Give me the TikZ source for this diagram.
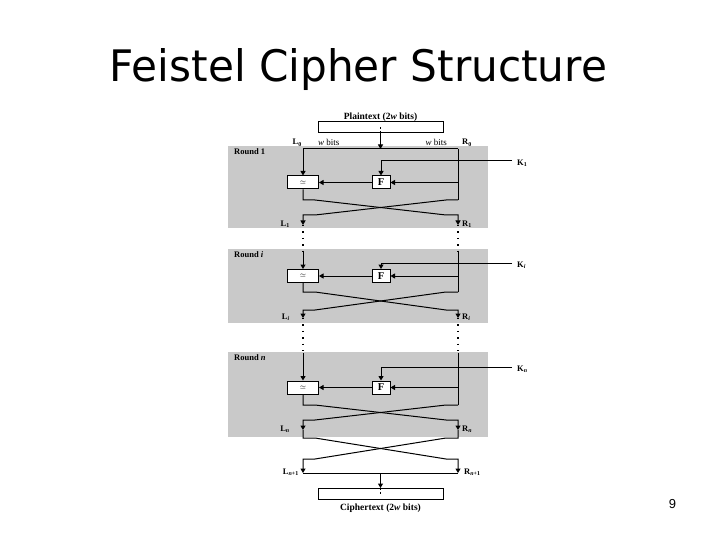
\documentclass[tikz,border=0pt]{standalone}
\usepackage{fontspec}
\setmainfont{Liberation Serif}
\newfontfamily\titlefont{DejaVu Sans}
\newfontfamily\numfont{Liberation Sans}
\usetikzlibrary{arrows.meta}
\begin{document}
\begin{tikzpicture}[x=1pt,y=-1pt,
  wire/.style={line width=1pt},
  arr/.style={wire,-{Triangle[length=4.5pt,width=5pt]}},
  dotline/.style={line width=1.4pt,dash pattern=on 1.4pt off 5pt},
  roundbg/.style={fill=black!21},
  boxstyle/.style={draw,line width=1pt,fill=white,inner sep=0pt},
  xorbox/.style={boxstyle,minimum width=31pt,minimum height=13pt},
  fbox/.style={boxstyle,minimum width=18pt,minimum height=13pt,font=\bfseries\fontsize{10.5}{10.5}\selectfont},
  textbox/.style={boxstyle,minimum width=125pt,minimum height=11pt},
  lbl/.style={inner sep=0pt,font=\bfseries\fontsize{8.5}{9}\selectfont},
  biglbl/.style={inner sep=0pt,font=\bfseries\fontsize{9.5}{10}\selectfont},
  thin/.style={inner sep=0pt,font=\fontsize{9}{9}\selectfont}
]
\useasboundingbox (0,0) rectangle (720,540);
\fill[white] (0,0) rectangle (720,540);

% title and page number
\node[inner sep=0pt,anchor=base] (title) at (358.5,82) {\resizebox{497pt}{33pt}{\titlefont Feistel Cipher Structure}};
\node[inner sep=0pt,anchor=base] (pagenum) at (672.5,508) {\numfont\fontsize{13}{13}\selectfont 9};

% gray round backgrounds
\fill[roundbg] (228,146) rectangle (488,228);
\fill[roundbg] (228,249) rectangle (488,323);
\fill[roundbg] (228,352) rectangle (488,437);

% plaintext
\node[textbox] (pt) at (380.5,127.5) {};
\node[biglbl] (ptlabel) at (380.5,117.5) {Plaintext (2\textit{w} bits)};
\coordinate (a0) at (303,149);
\coordinate (b0) at (458,149);
\coordinate (m0) at (380.5,149);
\draw[wire,dashed,dash pattern=on 2pt off 1.5pt] (pt.center) -- (pt.south);
\draw[arr] (pt.south) -- (m0);
\draw[wire] (a0) -- (b0);
\node[lbl,anchor=base east] (l0) at (302,145) {L\textsubscript{0}};
\node[lbl,anchor=base west] (r0) at (462,145) {R\textsubscript{0}};
\node[thin,anchor=base west] (wl) at (318,146) {\textit{w} bits};
\node[thin,anchor=base east] (wr) at (447,146) {\textit{w} bits};

% rounds
\foreach \id/\gt/\ls/\ky/\by/\ct/\cb/\ay/\rlab/\klab/\llab/\rrlab in {%
  1/146/149/161/182.5/200/215/225/{Round 1}/{K\textsubscript{1}}/{L\textsubscript{1}}/{R\textsubscript{1}},
  i/249/251/263/276/292/310/318/{Round \textit{i}}/{K\textsubscript{\itshape i}}/{L\textsubscript{\itshape i}}/{R\textsubscript{\itshape i}},
  n/352/353/367/387.5/405/420/430/{Round \textit{n}}/{K\textsubscript{\itshape n}}/{L\textsubscript{\itshape n}}/{R\textsubscript{\itshape n}}}{
  \node[xorbox] (x\id) at (303,\by) {$\scriptstyle\simeq$};
  \node[fbox] (f\id) at (381,\by) {F};
  \coordinate (lt\id) at (303,\ls);
  \coordinate (rt\id) at (458,\ls);
  \coordinate (rf\id) at (458,\by);
  \coordinate (k\id) at (512,\ky);
  \coordinate (kc\id) at (381,\ky);
  \coordinate (lc\id) at (303,\ct);
  \coordinate (rc\id) at (458,\ct);
  \coordinate (lb\id) at (303,\cb);
  \coordinate (rb\id) at (458,\cb);
  \coordinate (la\id) at (303,\ay);
  \coordinate (ra\id) at (458,\ay);
  \draw[arr] (lt\id) -- (x\id);
  \draw[wire] (rt\id) -- (rc\id);
  \draw[arr] (rf\id) -- (f\id);
  \draw[arr] (f\id) -- (x\id);
  \draw[arr] (k\id) -- (kc\id) -- (f\id);
  \draw[arr] (x\id) -- (lc\id) -- ([xshift=12pt]lc\id) -- ([xshift=-12pt]rb\id) -- (rb\id) -- (ra\id);
  \draw[arr] (rc\id) -- ([xshift=-12pt]rc\id) -- ([xshift=12pt]lb\id) -- (lb\id) -- (la\id);
  \node[lbl,anchor=west] (rl\id) at (234,\gt+6) {\rlab};
  \node[lbl,anchor=west] (kl\id) at (517,\ky+2) {\klab};
  \node[lbl,anchor=east] (ll\id) at (290,\ay-1) {\llab};
  \node[lbl,anchor=west] (rr\id) at (462,\ay-1) {\rrlab};
}

% dotted continuations between rounds
\draw[dotline] (la1) -- (lti);
\draw[dotline] (ra1) -- (rti);
\draw[dotline] (lai) -- (ltn);
\draw[dotline] (rai) -- (rtn);

% final swap
\coordinate (lf1) at (303,438);
\coordinate (rf1) at (458,438);
\coordinate (lf2) at (303,459);
\coordinate (rf2) at (458,459);
\coordinate (lo) at (303,473);
\coordinate (ro) at (458,473);
\coordinate (mo) at (380.5,473);
\draw[arr] (lan) -- (lf1) -- ([xshift=12pt]lf1) -- ([xshift=-12pt]rf2) -- (rf2) -- (ro);
\draw[arr] (ran) -- (rf1) -- ([xshift=-12pt]rf1) -- ([xshift=12pt]lf2) -- (lf2) -- (lo);
\draw[wire] (lo) -- (ro);
\node[lbl,anchor=east] (lnn) at (299,472) {L\textsubscript{{\itshape n}+1}};
\node[lbl,anchor=west] (rnn) at (464,472) {R\textsubscript{{\itshape n}+1}};

% ciphertext
\node[textbox] (ct) at (380.5,494) {};
\node[biglbl] (ctlabel) at (380.5,508) {Ciphertext (2\textit{w} bits)};
\draw[arr] (mo) -- (ct.north);
\draw[wire,dashed,dash pattern=on 2pt off 1.5pt] (ct.north) -- (ct.center);
\end{tikzpicture}
\end{document}
